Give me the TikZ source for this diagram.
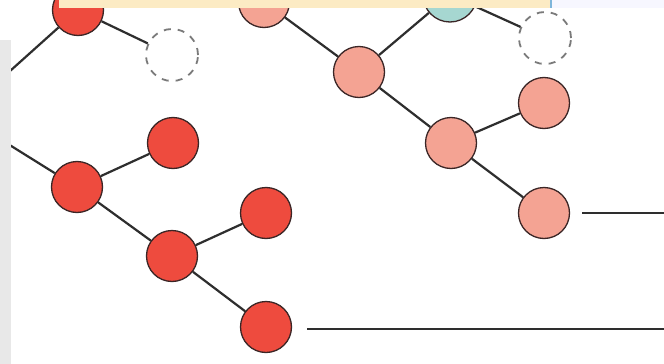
\documentclass[tikz,border=0pt]{standalone}
\definecolor{redf}{HTML}{EE4B3E}
\definecolor{salf}{HTML}{F4A393}
\definecolor{tealf}{HTML}{A6D7D1}
\definecolor{edgec}{HTML}{3A2626}
\definecolor{linec}{HTML}{2E2E2E}
\definecolor{beige}{HTML}{FCEBC4}
\definecolor{greystrip}{HTML}{E8E8E8}
\definecolor{sepblue}{HTML}{7FB6DA}
\definecolor{ghostc}{HTML}{7A7A7A}
\begin{document}
\begin{tikzpicture}[x=1pt,y=-1pt,
  vtx/.style={circle,draw=edgec,line width=1.3pt,minimum size=51pt,inner sep=0pt},
  redv/.style={vtx,fill=redf},
  salv/.style={vtx,fill=salf},
  tealv/.style={vtx,fill=tealf,minimum size=54pt},
  ghost/.style={circle,draw=ghostc,dash pattern=on 7pt off 7pt,line width=1.8pt,minimum size=52pt,inner sep=0pt},
  conn/.style={draw=linec,line width=2.2pt}]
\useasboundingbox (0,0) rectangle (664,364);
\fill[white] (0,0) rectangle (664,364);
% left tree
\node[redv] (A) at (78,10) {};
\node[ghost] (D1) at (172,55) {};
\node[redv] (B) at (173,143) {};
\node[redv] (C) at (77,187) {};
\node[redv] (E) at (172,256) {};
\node[redv] (F) at (266,213) {};
\node[redv] (G) at (266,327) {};
\coordinate (Aout) at (0,80);
\coordinate (Cin) at (0,139);
\coordinate (Gend) at (664,329);
\coordinate (Gst) at (307,329);
% right tree
\node[salv] (H) at (264,2) {};
\node[salv] (I) at (359,72) {};
\node[tealv] (J) at (450,-5) {};
\node[ghost] (K) at (545,38) {};
\node[salv] (L) at (451,143) {};
\node[salv] (M) at (544,103) {};
\node[salv] (N) at (544,213) {};
\coordinate (Nst) at (582,213);
\coordinate (Nend) at (664,213);
% connectors
\path[conn] (A) -- (Aout);
\path[conn] (A) -- (D1);
\path[conn] (Cin) -- (C);
\path[conn] (C) -- (B);
\path[conn] (C) -- (E);
\path[conn] (E) -- (F);
\path[conn] (E) -- (G);
\path[conn] (Gst) -- (Gend);
\path[conn] (H) -- (I);
\path[conn] (I) -- (J);
\path[conn] (J) -- (K);
\path[conn] (I) -- (L);
\path[conn] (L) -- (M);
\path[conn] (L) -- (N);
\path[conn] (Nst) -- (Nend);
% page fragments
\fill[greystrip] (0,40) rectangle (11,364);
\fill[beige] (59,0) rectangle (550,7.5);
\fill[sepblue] (550,0) rectangle (552,8);
\fill[blue!3] (552,0) rectangle (664,7.5);
\end{tikzpicture}
\end{document}
